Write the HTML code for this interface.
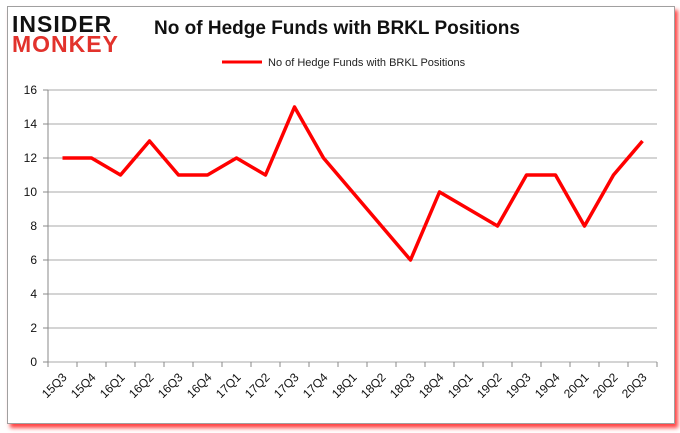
<!DOCTYPE html>
<html><head><meta charset="utf-8"><style>
body{margin:0;background:#fff;font-family:"Liberation Sans",sans-serif}
#frame{position:absolute;left:7px;top:6px;width:666px;height:416px;border:1px solid #a0a0a0;box-shadow:3px 4px 4px #f44;background:#fff}
</style></head><body>
<div id="frame"></div>
<svg width="680" height="433" style="position:absolute;left:0;top:0">
<g>
<text x="12" y="32" font-size="23" font-weight="bold" fill="#111" letter-spacing="1">INSIDER</text>
<text x="12" y="52" font-size="23" font-weight="bold" fill="#e2322c" letter-spacing="1">MONKEY</text>
</g>
<text x="337" y="34" text-anchor="middle" font-size="19" font-weight="bold" fill="#111">No of Hedge Funds with BRKL Positions</text>
<line x1="222" y1="62" x2="262" y2="62" stroke="red" stroke-width="3"/>
<text x="268" y="66" font-size="11" fill="#222">No of Hedge Funds with BRKL Positions</text>
<g id="grid"></g><g id="axes"></g><path id="line" fill="none" stroke="red" stroke-width="3.5" stroke-linejoin="round"/>
</svg>
<script>
const categories=["15Q3","15Q4","16Q1","16Q2","16Q3","16Q4","17Q1","17Q2","17Q3","17Q4","18Q1","18Q2","18Q3","18Q4","19Q1","19Q2","19Q3","19Q4","20Q1","20Q2","20Q3"];
const values=[12,12,11,13,11,11,12,11,15,12,10,8,6,10,9,8,11,11,8,11,13];
const yTicks=[0,2,4,6,8,10,12,14,16];
const ns="http://www.w3.org/2000/svg";
const x0=48,step=29,yb=362,yt=90,ymax=16;
const X=i=>x0+step*(i+0.5), Y=v=>yb-(yb-yt)*v/ymax;
const grid=document.getElementById('grid'),axes=document.getElementById('axes');
function mk(t,a,p){const e=document.createElementNS(ns,t);for(const k in a)e.setAttribute(k,a[k]);p.appendChild(e);return e;}
yTicks.forEach(v=>{
 const g=mk('line',{x1:x0,x2:x0+step*categories.length,y1:Y(v),y2:Y(v),stroke:'#a8a8a8','stroke-width':1},grid);
 
 
 mk('line',{x1:x0-5,x2:x0,y1:Y(v),y2:Y(v),stroke:'#888'},axes);
 const t=mk('text',{x:x0-11,y:Y(v)+4,'text-anchor':'end','font-size':12,fill:'#111'},axes);t.textContent=v;
 
 
});
mk('line',{x1:x0,x2:x0,y1:yt,y2:yb,stroke:'#888'},axes);
categories.forEach((c,i)=>{
 mk('line',{x1:x0+step*(i+1),x2:x0+step*(i+1),y1:yb,y2:yb+5,stroke:'#888'},axes);
 if(i==0)mk('line',{x1:x0,x2:x0,y1:yb,y2:yb+5,stroke:'#888'},axes);
 const t=mk('text',{x:X(i)+5,y:yb+16,'text-anchor':'end','font-size':12,fill:'#111',transform:`rotate(-45 ${X(i)+5} ${yb+16})`},axes);t.textContent=c;
 
 
});
const l=document.getElementById('line');
l.setAttribute('d',values.map((v,i)=>(i?'L':'M')+X(i)+','+Y(v)).join(''));


</script>
</body></html>
